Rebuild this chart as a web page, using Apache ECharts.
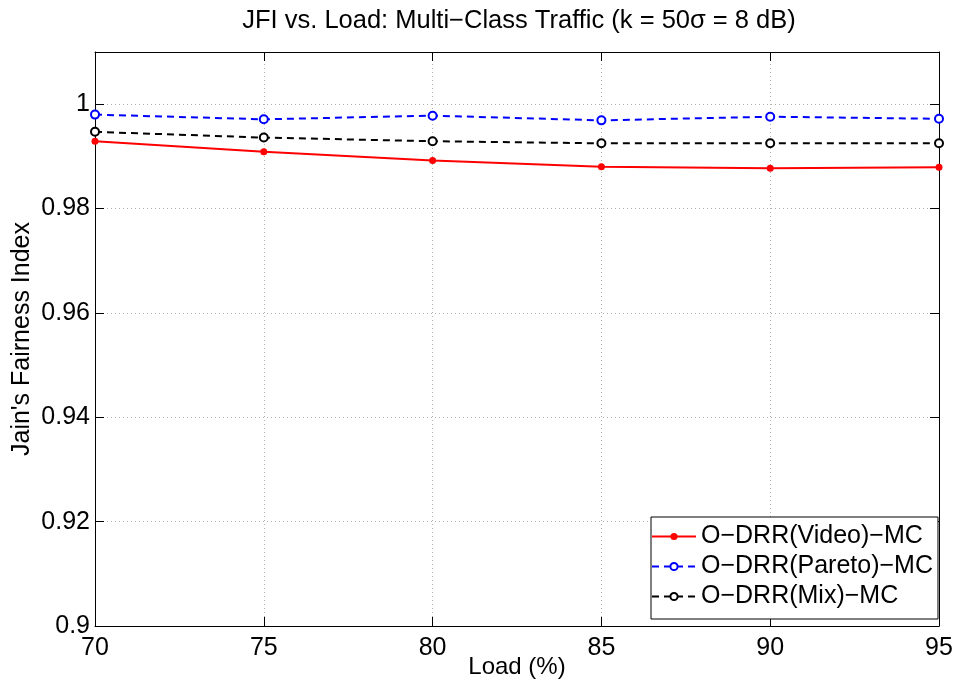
<!DOCTYPE html>
<html><head><meta charset="utf-8">
<script src="https://cdn.jsdelivr.net/npm/echarts@6/dist/echarts.min.js"></script>
<style>html,body{margin:0;padding:0;background:#fff}#c{width:954px;height:682px}</style>
</head><body><div id="c"></div>
<script>
const loads = [70, 75, 80, 85, 90, 95];
const videoJFI  = [0.9929, 0.9909, 0.9892, 0.9880, 0.9877, 0.9879];
const paretoJFI = [0.9980, 0.9971, 0.9978, 0.9969, 0.9976, 0.9972];
const mixJFI    = [0.9947, 0.9936, 0.9929, 0.9925, 0.9925, 0.9925];
const seriesNames = ['O\u2212DRR(Video)\u2212MC', 'O\u2212DRR(Pareto)\u2212MC', 'O\u2212DRR(Mix)\u2212MC'];
const titleText = 'JFI vs. Load: Multi\u2212Class Traffic (k = 50\u03c3 = 8 dB)';

const FONT = 'Liberation Sans, Arial, sans-serif';
const pairs = arr => loads.map((x, i) => [x, arr[i]]);
const fmtY = v => String(+v.toFixed(2));

const chart = echarts.init(document.getElementById('c'), null, {renderer: 'canvas'});
const gridLine = {show: true, lineStyle: {color: '#b0b0b0', type: [1, 3], width: 1}};
const tick = {show: true, inside: true, length: 9, lineStyle: {color: '#000', width: 1}};
chart.setOption({
  animation: false,
  backgroundColor: '#fff',
  title: {text: titleText, left: 514, top: 3, textAlign: 'center',
    textStyle: {fontFamily: FONT, fontSize: 25.5, fontWeight: 'normal', color: '#000'}},
  grid: {left: 95, right: 15, top: 52, bottom: 56, containLabel: false, outerBoundsMode: 'none'},
  xAxis: [
    {type: 'value', min: 70, max: 95, interval: 5, position: 'bottom',
     name: 'Load (%)', nameLocation: 'middle', nameGap: 29, nameMoveOverlap: false,
     nameTextStyle: {fontFamily: FONT, fontSize: 24, color: '#000'},
     axisLine: {show: true, lineStyle: {color: '#000', width: 1}},
     axisTick: tick, splitLine: gridLine,
     axisLabel: {fontFamily: FONT, fontSize: 25, color: '#000', margin: 10}},
    {type: 'value', min: 70, max: 95, interval: 5, position: 'top',
     axisLine: {show: true, lineStyle: {color: '#000', width: 1}},
     axisTick: tick, splitLine: {show: false}, axisLabel: {show: false}}
  ],
  yAxis: [
    {type: 'value', min: 0.9, max: 1.01, interval: 0.02, position: 'left',
     name: "Jain's Fairness Index", nameLocation: 'middle', nameGap: 60, nameMoveOverlap: false,
     nameTextStyle: {fontFamily: FONT, fontSize: 25, color: '#000'},
     axisLine: {show: true, lineStyle: {color: '#000', width: 1}},
     axisTick: tick, splitLine: gridLine,
     axisLabel: {fontFamily: FONT, fontSize: 25, color: '#000', margin: 5,
       showMaxLabel: false, formatter: fmtY}},
    {type: 'value', min: 0.9, max: 1.01, interval: 0.02, position: 'right',
     axisLine: {show: true, lineStyle: {color: '#000', width: 1}},
     axisTick: tick, splitLine: {show: false}, axisLabel: {show: false}}
  ],
  legend: {
    orient: 'vertical', left: 651, top: 517,
    backgroundColor: '#fff', borderColor: '#000', borderWidth: 1,
    padding: [7, 5, 10, 0], itemGap: 5, itemWidth: 44, itemHeight: 9,
    textStyle: {fontFamily: FONT, fontSize: 25, color: '#000'},
    data: seriesNames
  },
  series: [
    {name: seriesNames[0], type: 'line', data: pairs(videoJFI),
     symbol: 'circle', symbolSize: 7,
     itemStyle: {color: '#ff0000'}, lineStyle: {color: '#ff0000', width: 2}},
    {name: seriesNames[1], type: 'line', data: pairs(paretoJFI),
     symbol: 'emptyCircle', symbolSize: 8,
     itemStyle: {color: '#0000ff', borderWidth: 2}, lineStyle: {color: '#0000ff', width: 2, type: [7, 5]}},
    {name: seriesNames[2], type: 'line', data: pairs(mixJFI),
     symbol: 'emptyCircle', symbolSize: 8,
     itemStyle: {color: '#000', borderWidth: 2}, lineStyle: {color: '#000', width: 2, type: [7, 5]}}
  ]
});
</script></body></html>
